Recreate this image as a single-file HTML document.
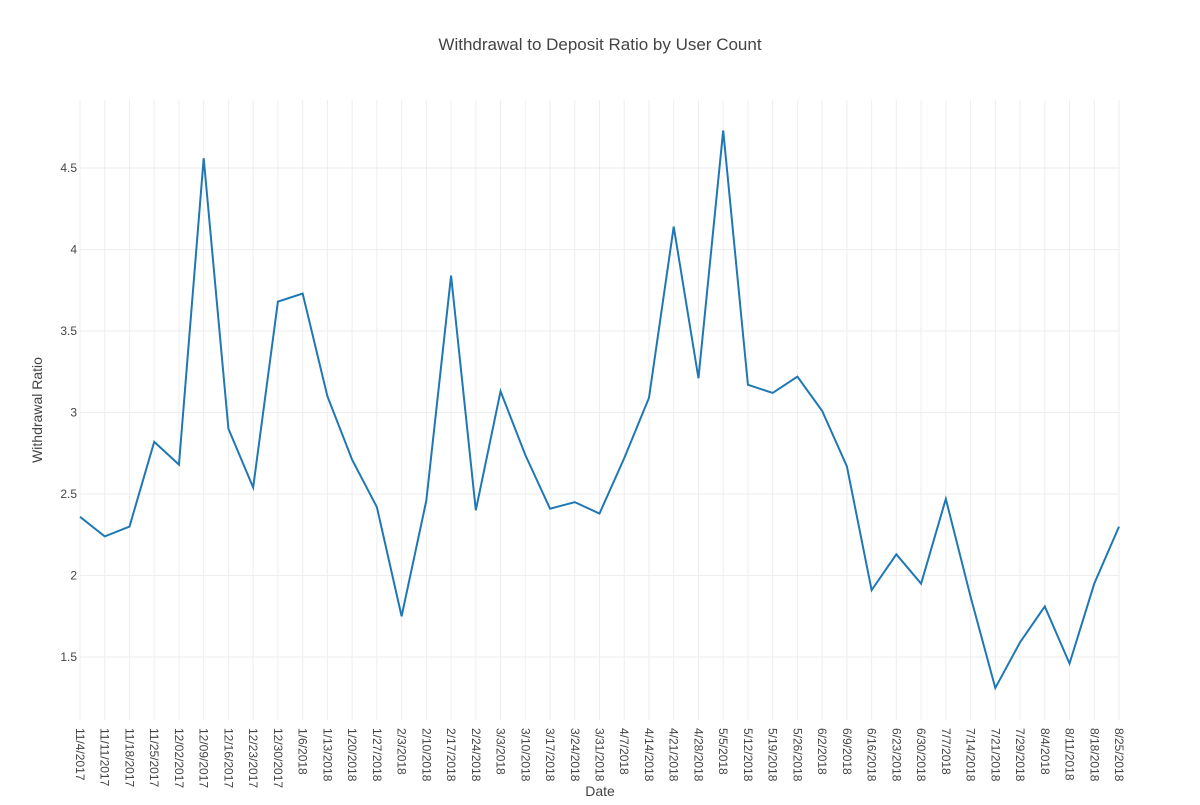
<!DOCTYPE html>
<html><head><meta charset="utf-8"><style>
body{margin:0;background:#fff;font-family:"Liberation Sans",sans-serif;}
svg text{font-family:"Liberation Sans",sans-serif;fill:#444;}
</style></head><body>
<svg id="chart" width="1200" height="800" xmlns="http://www.w3.org/2000/svg">
<text x="600" y="50" text-anchor="middle" font-size="17">Withdrawal to Deposit Ratio by User Count</text>
<g id="grid"></g>
<g id="ticks"></g>
<path id="line" fill="none" stroke="#1f77b4" stroke-width="2"/>
<text x="600" y="796" text-anchor="middle" font-size="14">Date</text>
<text transform="translate(42,410) rotate(-90)" text-anchor="middle" font-size="14">Withdrawal Ratio</text>
</svg>
<script>
const categories=["11/4/2017","11/11/2017","11/18/2017","11/25/2017","12/02/2017","12/09/2017","12/16/2017","12/23/2017","12/30/2017","1/6/2018","1/13/2018","1/20/2018","1/27/2018","2/3/2018","2/10/2018","2/17/2018","2/24/2018","3/3/2018","3/10/2018","3/17/2018","3/24/2018","3/31/2018","4/7/2018","4/14/2018","4/21/2018","4/28/2018","5/5/2018","5/12/2018","5/19/2018","5/26/2018","6/2/2018","6/9/2018","6/16/2018","6/23/2018","6/30/2018","7/7/2018","7/14/2018","7/21/2018","7/29/2018","8/4/2018","8/11/2018","8/18/2018","8/25/2018"];
const ratios=[2.36,2.24,2.30,2.82,2.68,4.56,2.90,2.54,3.68,3.73,3.10,2.71,2.42,1.75,2.46,3.84,2.40,3.13,2.74,2.41,2.45,2.38,2.72,3.09,4.14,3.21,4.73,3.17,3.12,3.22,3.01,2.67,1.91,2.13,1.95,2.47,1.87,1.31,1.59,1.81,1.46,1.95,2.30];
const yTicks=[1.5,2,2.5,3,3.5,4,4.5];
const yTickLabels=["1.5","2","2.5","3","3.5","4","4.5"];
const NS="http://www.w3.org/2000/svg";
const x0=80,x1=1119;
function xScale(i){return x0+i*(x1-x0)/(categories.length-1);}
function yScale(v){return 168+(4.5-v)*163;}
const grid=document.getElementById('grid'),ticks=document.getElementById('ticks');
categories.forEach((c,i)=>{
  const x=xScale(i);
  const l=document.createElementNS(NS,'line');
  
  
  l.setAttribute('x1',x);l.setAttribute('x2',x);l.setAttribute('y1',100);l.setAttribute('y2',720);
  l.setAttribute('stroke','#eee');grid.appendChild(l);
  const t=document.createElementNS(NS,'text');
  
  
  t.setAttribute('font-size','12');
  t.setAttribute('transform',`translate(${x-4},728) rotate(90)`);
  t.textContent=c;ticks.appendChild(t);
});
yTicks.forEach((v,i)=>{
  const y=yScale(v);
  const l=document.createElementNS(NS,'line');
  
  
  l.setAttribute('x1',x0);l.setAttribute('x2',x1);l.setAttribute('y1',y);l.setAttribute('y2',y);
  l.setAttribute('stroke','#eee');grid.appendChild(l);
  const t=document.createElementNS(NS,'text');
  
  
  t.setAttribute('font-size','12');t.setAttribute('text-anchor','end');
  t.setAttribute('x',x0-3);t.setAttribute('y',y+4);
  t.textContent=yTickLabels[i];ticks.appendChild(t);
});
document.getElementById('line').setAttribute('d',ratios.map((v,i)=>(i?'L':'M')+xScale(i)+','+yScale(v)).join(''));
</script>
</body></html>
